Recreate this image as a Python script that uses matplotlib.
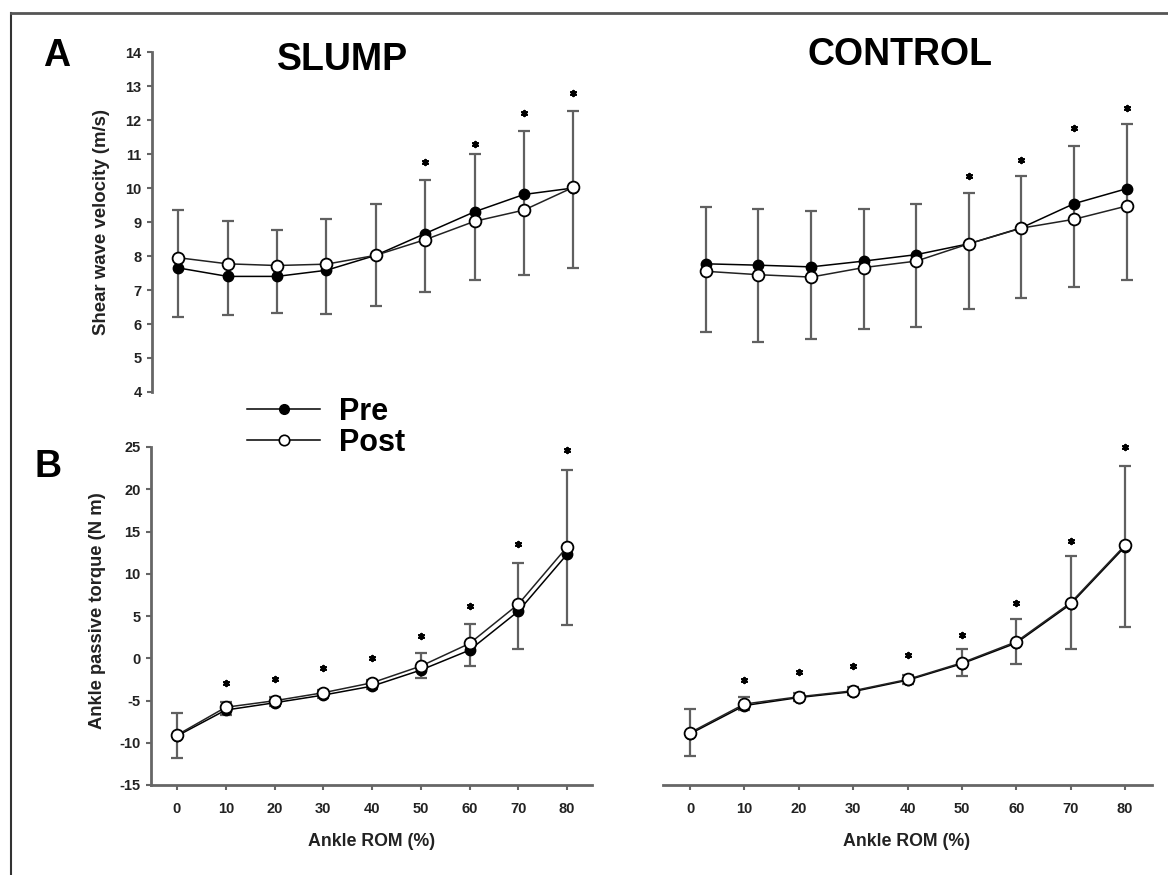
import numpy as np
import matplotlib
matplotlib.use("Agg")
import matplotlib.pyplot as plt
from matplotlib.lines import Line2D

plt.rcParams['font.family'] = ['Liberation Sans', 'DejaVu Sans']
plt.rcParams['font.weight'] = 'bold'
plt.rcParams['axes.unicode_minus'] = False

# ---- data ----
rom = [0, 10, 20, 30, 40, 50, 60, 70, 80]

# A: shear wave velocity (m/s)
swv_slump_pre = [7.65, 7.4, 7.4, 7.58, 8.02, 8.66, 9.3, 9.81, 10.0]
swv_slump_post = [7.95, 7.77, 7.72, 7.76, 8.02, 8.48, 9.02, 9.35, 10.02]
swv_slump_hi = [9.34, 9.02, 8.75, 9.08, 9.54, 10.23, 11.0, 11.67, 12.26]
swv_slump_lo = [6.21, 6.27, 6.32, 6.3, 6.54, 6.94, 7.3, 7.43, 7.65]
swv_slump_star = [None, None, None, None, None, 10.76, 11.3, 12.2, 12.8]

swv_ctrl_pre = [7.77, 7.73, 7.68, 7.85, 8.04, 8.36, 8.83, 9.54, 9.98]
swv_ctrl_post = [7.55, 7.45, 7.38, 7.66, 7.85, 8.36, 8.82, 9.08, 9.47]
swv_ctrl_hi = [9.44, 9.37, 9.31, 9.37, 9.52, 9.86, 10.35, 11.24, 11.88]
swv_ctrl_lo = [5.76, 5.47, 5.57, 5.86, 5.91, 6.43, 6.75, 7.09, 7.28]
swv_ctrl_star = [None, None, None, None, None, 10.35, 10.81, 11.75, 12.35]

# B: ankle passive torque (N m)
tq_slump_pre = [-9.2, -6.13, -5.27, -4.36, -3.3, -1.4, 0.96, 5.57, 12.31]
tq_slump_post = [-9.09, -5.8, -5.03, -4.08, -2.9, -0.93, 1.75, 6.4, 13.18]
tq_slump_hi = [-6.53, -5.2, -4.6, -3.7, -2.6, 0.57, 4.11, 11.29, 22.24]
tq_slump_lo = [-11.77, -6.72, -5.6, -4.7, -3.6, -2.39, -0.93, 1.04, 3.99]
tq_slump_star = [None, -2.98, -2.47, -1.13, -0.02, 2.66, 6.2, 13.5, 24.6]

tq_ctrl_pre = [-8.95, -5.6, -4.65, -3.95, -2.6, -0.65, 1.8, 6.4, 13.2]
tq_ctrl_post = [-8.81, -5.42, -4.56, -3.85, -2.51, -0.54, 1.95, 6.56, 13.37]
tq_ctrl_hi = [-6.05, -4.64, -4.1, -3.4, -2.0, 1.04, 4.63, 12.11, 22.75]
tq_ctrl_lo = [-11.57, -6.1, -5.0, -4.3, -3.0, -2.07, -0.73, 1.08, 3.72]
tq_ctrl_star = [None, -2.59, -1.6, -0.9, 0.37, 2.81, 6.48, 13.89, 25.0]

swv_ticks = [4, 5, 6, 7, 8, 9, 10, 11, 12, 13, 14]
tq_ticks = [-15, -10, -5, 0, 5, 10, 15, 20, 25]
rom_ticks = [0, 10, 20, 30, 40, 50, 60, 70, 80]

spine_col = '#666666'
err_col = '#606060'


def draw_panel(ax, pre, post, hi, lo, star):
    x = np.array(rom, dtype=float)
    hi = np.array(hi)
    lo = np.array(lo)
    mid = (hi + lo) / 2
    ax.errorbar(x, mid, yerr=[mid - lo, hi - mid], fmt='none', ecolor=err_col,
                elinewidth=1.6, capsize=4, capthick=1.6, zorder=1, clip_on=False)
    ax.plot(x, pre, color='black', lw=1.1, marker='o', ms=7.5, mfc='black',
            mec='black', zorder=3, clip_on=False)
    ax.plot(x, post, color='#222222', lw=1.1, marker='o', ms=8.5, mfc='white',
            mec='black', mew=1.3, zorder=4, clip_on=False)
    sx = [xi for xi, s in zip(rom, star) if s is not None]
    sy = [s for s in star if s is not None]
    ax.scatter(sx, sy, marker=(6, 2, 0), s=14, color='black', linewidths=1.6,
               zorder=5, clip_on=False)


def style(ax, left=False, bottom=False):
    for k in ['top', 'right']:
        ax.spines[k].set_visible(False)
    ax.spines['left'].set_visible(left)
    ax.spines['bottom'].set_visible(bottom)
    for k in ['left', 'bottom']:
        ax.spines[k].set_color(spine_col)
        ax.spines[k].set_linewidth(2.0)
    ax.tick_params(axis='both', direction='out', length=3.5, width=1.5,
                   color=spine_col, labelsize=10.5, labelcolor='#222222', pad=4)
    if not left:
        ax.tick_params(axis='y', left=False, labelleft=False)
    if not bottom:
        ax.tick_params(axis='x', bottom=False, labelbottom=False)
    ax.patch.set_alpha(0)


fig = plt.figure(figsize=(11.68, 8.75), dpi=100)
W, H = 1168.0, 875.0


def add_ax(l, r, b, t):
    return fig.add_axes([l / W, 1 - b / H, (r - l) / W, (b - t) / H])


ax_tl = add_ax(152, 598, 392, 52)
ax_tr = add_ax(678, 1153, 392, 52)
ax_bl = add_ax(151, 592, 785, 447)
ax_br = add_ax(663, 1152, 785, 447)

draw_panel(ax_tl, swv_slump_pre, swv_slump_post, swv_slump_hi, swv_slump_lo, swv_slump_star)
draw_panel(ax_tr, swv_ctrl_pre, swv_ctrl_post, swv_ctrl_hi, swv_ctrl_lo, swv_ctrl_star)
draw_panel(ax_bl, tq_slump_pre, tq_slump_post, tq_slump_hi, tq_slump_lo, tq_slump_star)
draw_panel(ax_br, tq_ctrl_pre, tq_ctrl_post, tq_ctrl_hi, tq_ctrl_lo, tq_ctrl_star)

for ax in (ax_tl, ax_tr):
    ax.set_xlim(-5.3, 85)
    ax.set_ylim(4, 14)
    ax.set_yticks(swv_ticks)
    ax.set_yticklabels([str(t) for t in swv_ticks])
ax_bl.set_xlim(-5.33, 85.1)
ax_br.set_xlim(-4.97, 84.97)
for ax in (ax_bl, ax_br):
    ax.set_ylim(-15, 25)
    ax.set_yticks(tq_ticks)
    ax.set_yticklabels([str(t) for t in tq_ticks])
    ax.set_xticks(rom_ticks)
    ax.set_xticklabels([str(t) for t in rom_ticks])

style(ax_tl, left=True)
style(ax_tr)
style(ax_bl, left=True, bottom=True)
style(ax_br, bottom=True)
for ax in (ax_bl, ax_br):
    ax.tick_params(axis='x', pad=9)

# titles, panel letters, axis labels
fig.text(343 / W, 1 - 60 / H, 'SLUMP', fontsize=27, ha='center', va='center')
fig.text(900 / W, 1 - 55 / H, 'CONTROL', fontsize=27, ha='center', va='center')
fig.text(57 / W, 1 - 56 / H, 'A', fontsize=27, ha='center', va='center')
fig.text(48 / W, 1 - 467 / H, 'B', fontsize=27, ha='center', va='center')
fig.text(102 / W, 1 - 222 / H, 'Shear wave velocity (m/s)', fontsize=13.4,
         rotation=90, ha='center', va='center', color='#222222')
fig.text(98 / W, 1 - 611 / H, 'Ankle passive torque (N m)', fontsize=13.2,
         rotation=90, ha='center', va='center', color='#222222')
fig.text(372 / W, 1 - 842 / H, 'Ankle ROM (%)', fontsize=12.8,
         ha='center', va='center', color='#222222')
fig.text(907 / W, 1 - 842 / H, 'Ankle ROM (%)', fontsize=12.8,
         ha='center', va='center', color='#222222')

# legend
handles = [
    Line2D([], [], color='black', lw=1.1, marker='o', ms=7, mfc='black', mec='black'),
    Line2D([], [], color='black', lw=1.1, marker='o', ms=7.5, mfc='white', mec='black', mew=1.2),
]
fig.legend(handles, ['Pre', 'Post'], loc='upper left',
           bbox_to_anchor=(247 / W, 1 - 397 / H), frameon=False, fontsize=22,
           handlelength=2.4, handletextpad=0.6, labelspacing=0.02, borderpad=0,
           borderaxespad=0)

# border (top and left edges)
fig.add_artist(Line2D([11 / W, 11 / W], [0, 1 - 13 / H], color='#333333', lw=1.5))
fig.add_artist(Line2D([11 / W, 1], [1 - 13 / H, 1 - 13 / H], color='#555555', lw=2.0))

fig.savefig('out.png', dpi=100)
